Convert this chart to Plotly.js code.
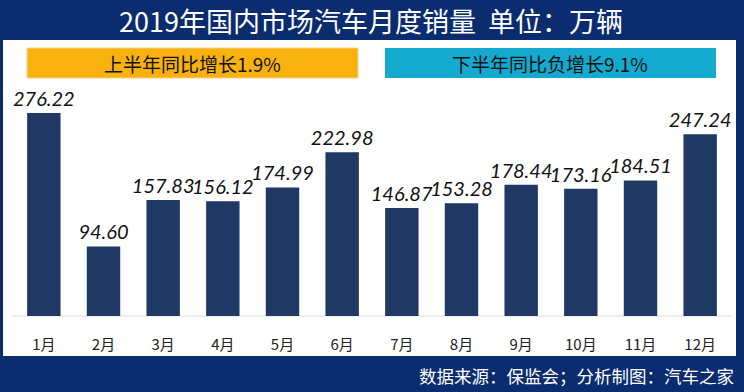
<!DOCTYPE html>
<html>
<head>
<meta charset="utf-8">
<script src="https://cdn.plot.ly/plotly-3.0.1.min.js"></script>
<style>html,body{margin:0;padding:0;background:#0b2c6e;}#chart{width:744px;height:392px;}</style>
</head>
<body>
<div id="chart"></div>
<script>
const months = ['1月','2月','3月','4月','5月','6月','7月','8月','9月','10月','11月','12月'];
const sales = [276.22, 94.60, 157.83, 156.12, 174.99, 222.98, 146.87, 153.28, 178.44, 173.16, 184.51, 247.24];
const titleText = '2019年国内市场汽车月度销量  单位：万辆';
const banner1 = '上半年同比增长1.9%';
const banner2 = '下半年同比负增长9.1%';
const sourceText = '数据来源：保监会；分析制图：汽车之家';

const W = 744, H = 392;
const M = {l: 14, r: 14, t: 60, b: 76};
const PW = W - M.l - M.r, PH = H - M.t - M.b;
const px = x => (x - M.l) / PW;
const py = y => (H - M.b - y) / PH;

const CJK = '"Noto Sans CJK SC", "Noto Sans", sans-serif';

const trace = {
  type: 'bar',
  x: months,
  y: sales,
  marker: {color: '#203864'},
  text: sales.map(v => v.toFixed(2)),
  textposition: 'outside',
  constraintext: 'none',
  textfont: {family: 'Lato, "Noto Sans", sans-serif', size: 20, color: '#111', style: 'italic'},
  cliponaxis: false,
  hoverinfo: 'x+y'
};

const shapes = [
  {type: 'rect', xref: 'paper', yref: 'paper', x0: px(3), x1: px(736), y0: py(40), y1: py(356),
   fillcolor: '#ffffff', line: {width: 0}, layer: 'below'},
  {type: 'rect', xref: 'paper', yref: 'paper', x0: px(27), x1: px(358), y0: py(48), y1: py(78),
   fillcolor: '#f8b10e', line: {color: '#f2d48a', width: 1}, layer: 'below'},
  {type: 'rect', xref: 'paper', yref: 'paper', x0: px(385), x1: px(716), y0: py(48), y1: py(78),
   fillcolor: '#14a9cf', line: {width: 0}, layer: 'below'},
  {type: 'line', xref: 'paper', yref: 'paper', x0: px(12), x1: px(732), y0: 0, y1: 0,
   line: {color: '#d9d9d9', width: 1}, layer: 'below'}
];

const annotations = [
  {text: titleText, xref: 'paper', yref: 'paper', x: px(371), y: py(20), showarrow: false,
   xanchor: 'center', yanchor: 'middle', font: {family: CJK, size: 27, color: '#ffffff'}},
  {text: banner1, xref: 'paper', yref: 'paper', x: px(192), y: py(63), showarrow: false,
   xanchor: 'center', yanchor: 'middle', font: {family: CJK, size: 19, color: '#111'}},
  {text: banner2, xref: 'paper', yref: 'paper', x: px(550), y: py(63), showarrow: false,
   xanchor: 'center', yanchor: 'middle', font: {family: CJK, size: 19, color: '#111'}},
  {text: sourceText, xref: 'paper', yref: 'paper', x: px(736), y: py(375), showarrow: false,
   xanchor: 'right', yanchor: 'middle', font: {family: CJK, size: 17.5, color: '#ffffff'}}
];

const layout = {
  width: W, height: H,
  margin: M,
  paper_bgcolor: '#0b2c6e',
  plot_bgcolor: 'rgba(0,0,0,0)',
  bargap: 0.44,
  showlegend: false,
  xaxis: {
    type: 'category',
    showgrid: false, zeroline: false, showline: false,
    ticks: '', ticklabelstandoff: 18,
    tickfont: {family: CJK, size: 15, color: '#222'},
    fixedrange: true
  },
  yaxis: {
    range: [0, PH / ((316 - 113) / 276.22)],
    visible: false, showgrid: false, zeroline: false, fixedrange: true
  },
  shapes: shapes,
  annotations: annotations
};

Plotly.newPlot('chart', [trace], layout, {displayModeBar: false, staticPlot: true});
</script>
</body>
</html>
